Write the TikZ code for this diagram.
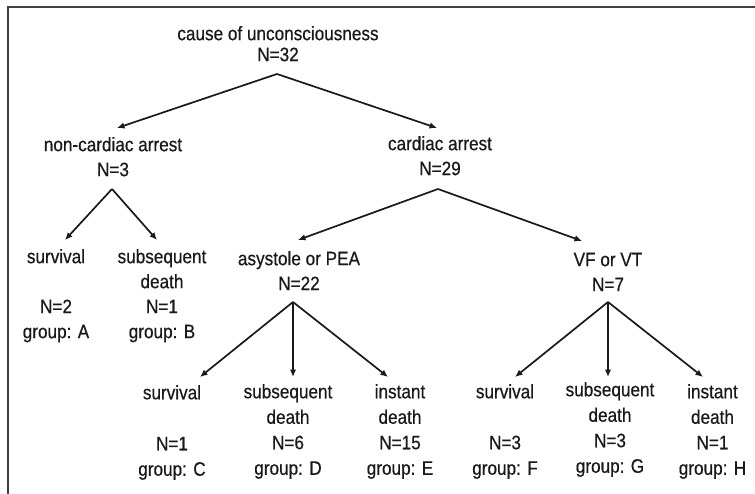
\documentclass[tikz,border=0pt]{standalone}
\usepackage{fontspec}
\setmainfont[FakeStretch=0.88,FakeBold=0.5]{Liberation Sans}
\usetikzlibrary{arrows.meta}
\begin{document}
\begin{tikzpicture}[x=1pt,y=-1pt,
  lbl/.style={inner sep=0pt, anchor=north, align=center, text=black!90,
              font=\fontsize{19.5}{25}\selectfont},
  lbltop/.style={lbl, font=\fontsize{19.5}{21}\selectfont},
  lbllow/.style={lbl, font=\fontsize{19.5}{25.5}\selectfont},
  conn/.style={line width=1.7pt, draw=black!90,
               -{Latex[length=7.5pt,width=6.5pt]}},
  frame/.style={line width=1.4pt, draw=black!75}]
\useasboundingbox (0,0) rectangle (755,494);
\fill[white] (0,0) rectangle (755,494);
\draw[frame] (8,494) -- (8,7) -- (755,7);

% nodes
\node[lbltop] (root) at (278,25.3) {\strut cause of unconsciousness\\N=32};
\node[lbl] (nc) at (113,133.5) {\strut non-cardiac arrest\\N=3};
\node[lbl] (ca) at (440,132.5) {\strut cardiac arrest\\N=29};
\node[lbl] (ncS) at (56,245.5) {\strut survival\\\mbox{}\\N=2\\group: A};
\node[lbl] (ncD) at (162,245.5) {\strut subsequent\\death\\N=1\\group: B};
\node[lbl] (as) at (299,247.5) {\strut asystole or PEA\\N=22};
\node[lbl] (vf) at (608,248.5) {\strut VF or VT\\N=7};
\node[lbllow] (asS) at (172,381.2) {\strut survival\\\mbox{}\\N=1\\group: C};
\node[lbllow] (asD) at (288,380.2) {\strut subsequent\\death\\N=6\\group: D};
\node[lbllow] (asI) at (400,380.2) {\strut instant\\death\\N=15\\group: E};
\node[lbllow] (vfS) at (505,380.2) {\strut survival\\\mbox{}\\N=3\\group: F};
\node[lbllow] (vfD) at (610,378.2) {\strut subsequent\\death\\N=3\\group: G};
\node[lbllow] (vfI) at (712.5,380.2) {\strut instant\\death\\N=1\\group: H};

% branch points (below parents) and arrow ends (above children)
\coordinate (root-out) at (277,74);
\coordinate (nc-out) at (112,189);
\coordinate (ca-out) at (438,189);
\coordinate (as-out) at (293,302);
\coordinate (vf-out) at (608,302);
\coordinate (nc-in) at (117,128);
\coordinate (ca-in) at (437,128);
\coordinate (ncS-in) at (65,240);
\coordinate (ncD-in) at (157,240);
\coordinate (as-in) at (298,240);
\coordinate (vf-in) at (582,241);
\coordinate (asS-in) at (200,377);
\coordinate (asD-in) at (293,377);
\coordinate (asI-in) at (388,377);
\coordinate (vfS-in) at (515,377);
\coordinate (vfD-in) at (608,377);
\coordinate (vfI-in) at (703,377);

\draw[conn] (root-out) -- (nc-in);
\draw[conn] (root-out) -- (ca-in);
\draw[conn] (nc-out) -- (ncS-in);
\draw[conn] (nc-out) -- (ncD-in);
\draw[conn] (ca-out) -- (as-in);
\draw[conn] (ca-out) -- (vf-in);
\draw[conn] (as-out) -- (asS-in);
\draw[conn] (as-out) -- (asD-in);
\draw[conn] (as-out) -- (asI-in);
\draw[conn] (vf-out) -- (vfS-in);
\draw[conn] (vf-out) -- (vfD-in);
\draw[conn] (vf-out) -- (vfI-in);
\end{tikzpicture}
\end{document}
